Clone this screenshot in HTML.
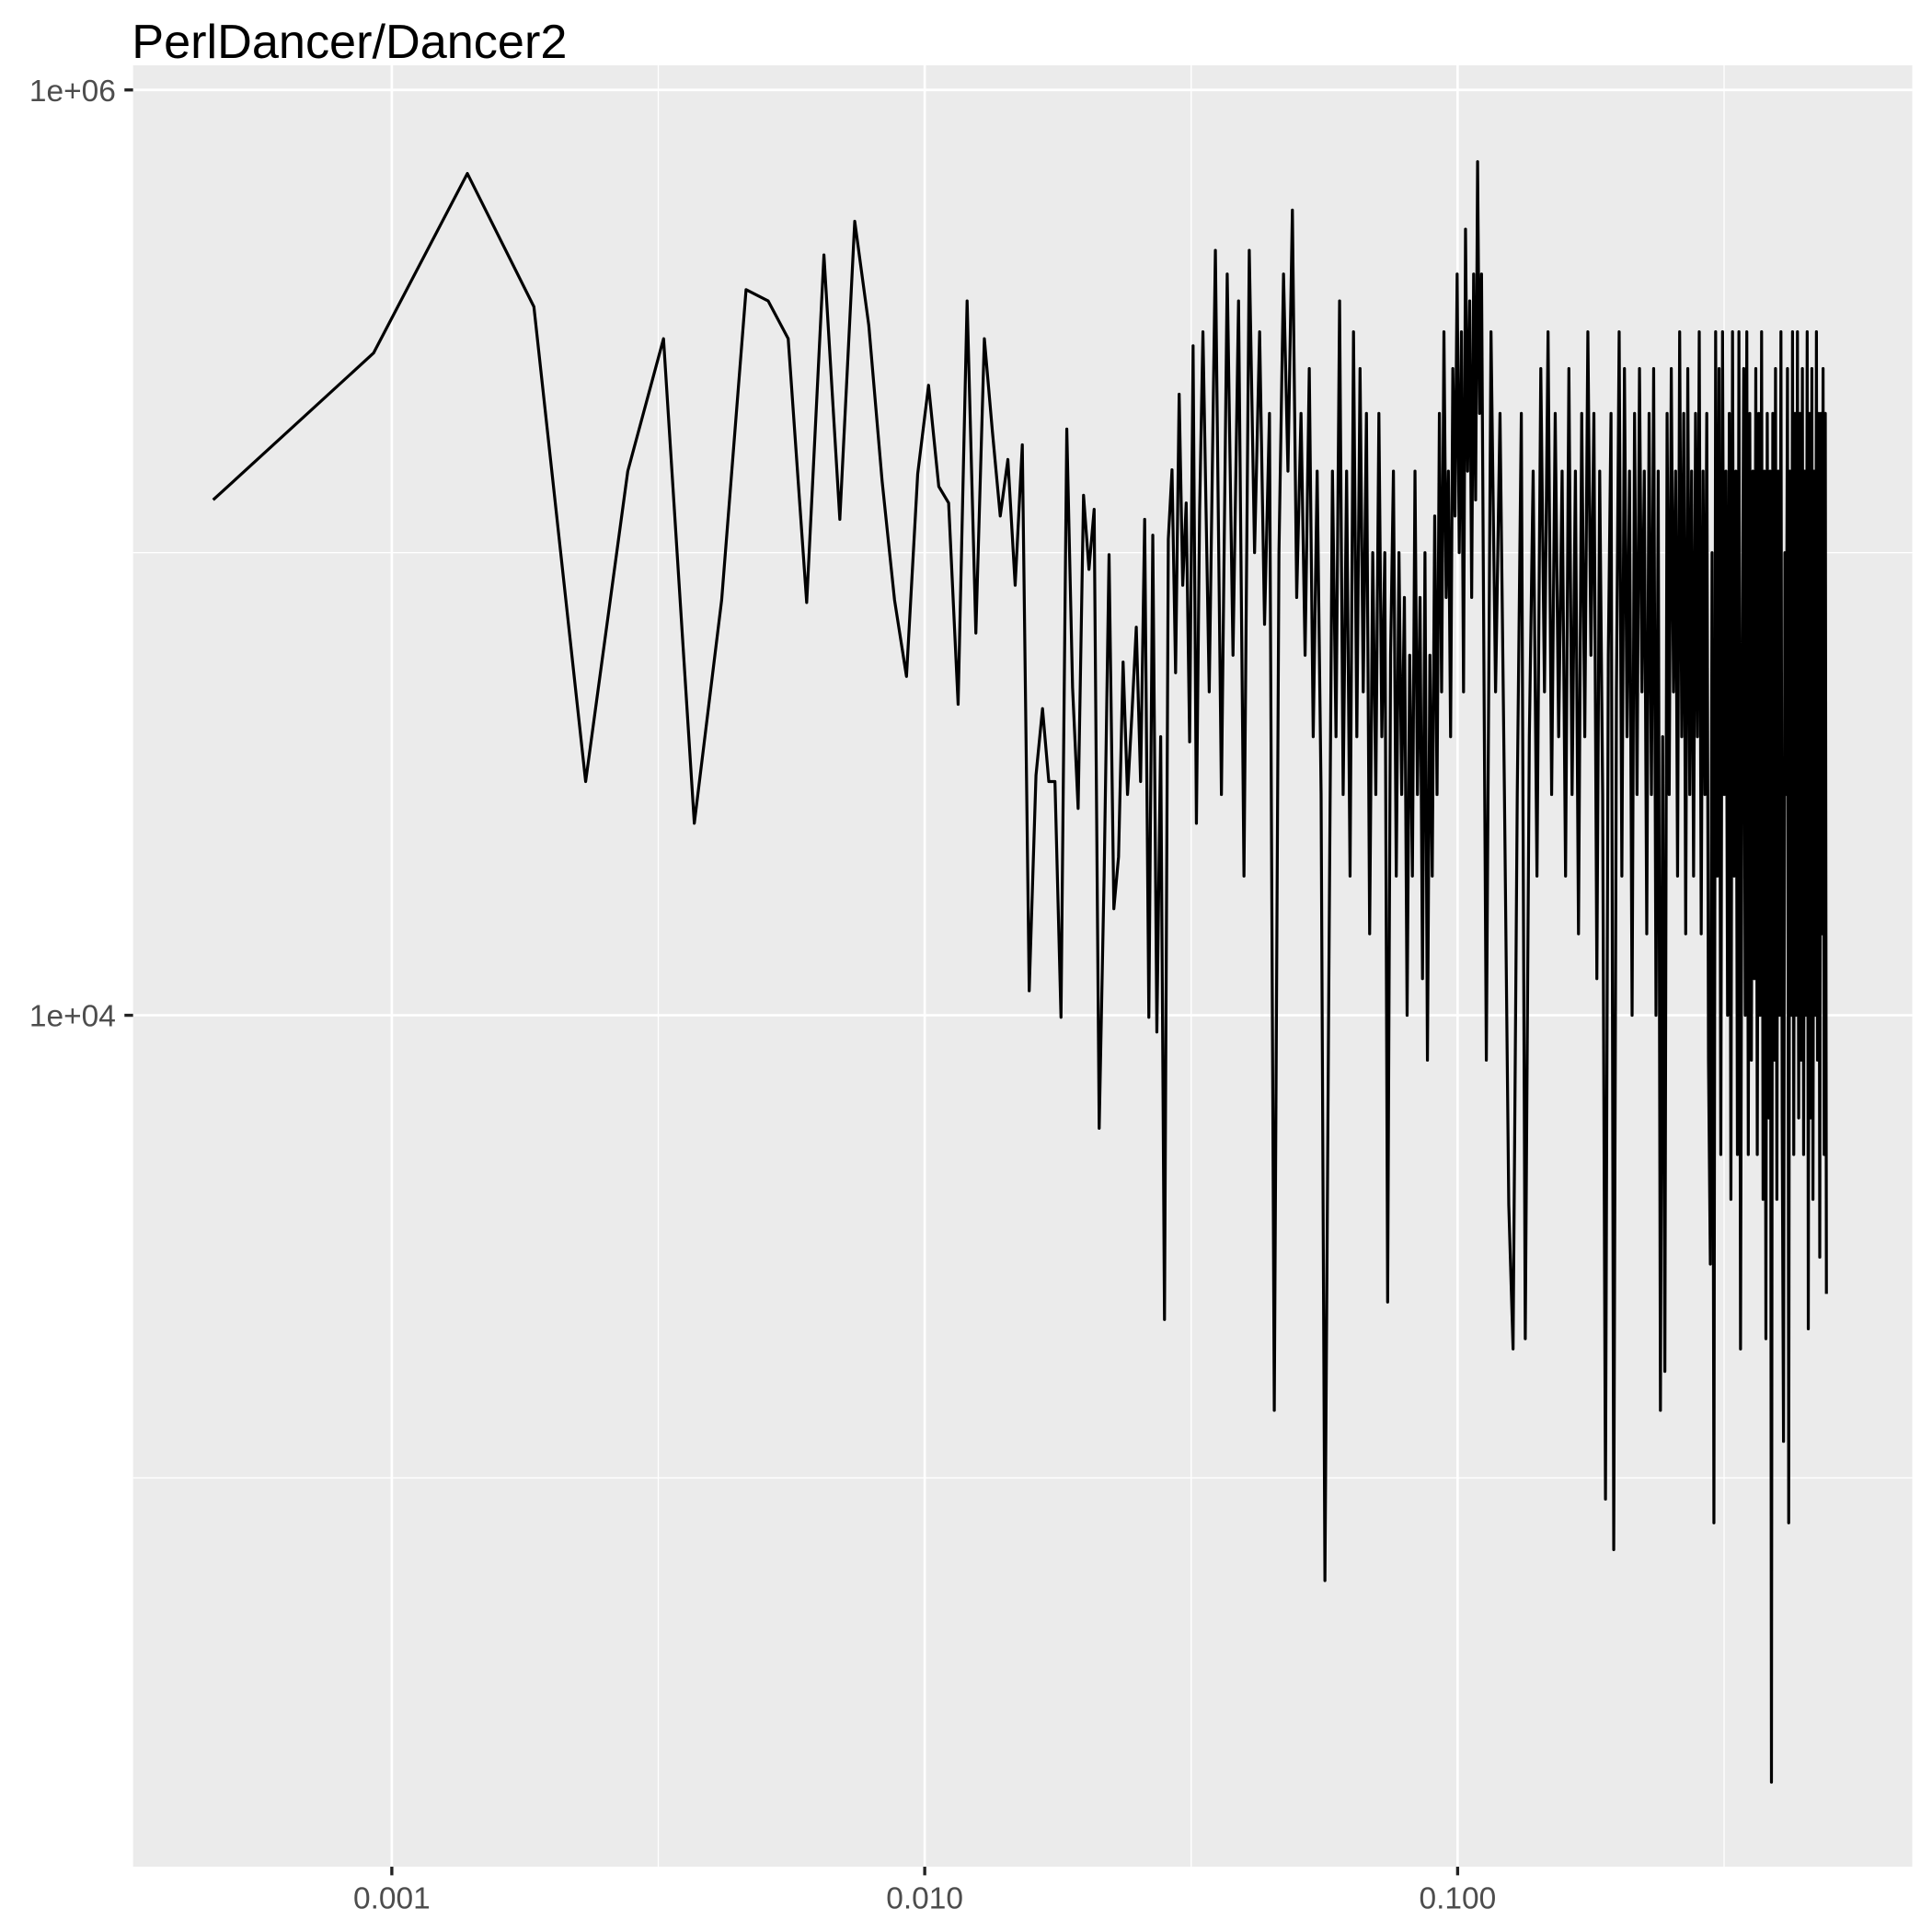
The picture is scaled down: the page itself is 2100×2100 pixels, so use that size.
<!DOCTYPE html>
<html><head><meta charset="utf-8"><style>
html,body{margin:0;padding:0;background:#fff;}
svg{display:block;font-family:"Liberation Sans",Arial,sans-serif;}
</style></head><body>
<svg id="chart" width="2100" height="2100" viewBox="0 0 1568 1568" xmlns="http://www.w3.org/2000/svg">
<text x="107" y="47" font-size="39" fill="#000">PerlDancer/Dancer2</text>
<rect x="108" y="53" width="1444" height="1462" fill="#ebebeb"/>
<g id="grid"></g>
<g id="axes"></g>
<path id="series" fill="none" stroke="#000" stroke-width="2.4" stroke-linejoin="round"/>
</svg>
<script>
// frequency step between consecutive spectrum indices
const freqStep = 0.000462;
// head: consecutive indices 1..N
const headPower = [1.3e5,2.7e5,6.6e5,3.4e5,3.2e4,1.5e5,2.9e5,2.6e4,7.9e4,3.7e5,3.5e5,2.9e5,7.8e4,4.4e5,1.18e5,5.2e5,3.1e5,1.43e5,7.9e4,5.4e4,1.48e5,2.3e5,1.39e5,1.28e5,4.7e4,3.5e5,6.7e4,2.9e5,1.83e5,1.2e5,1.59e5,8.5e4,1.71e5,1.13e4,3.3e4,4.6e4,3.2e4,3.2e4,9.9e3,1.85e5,5.1e4,2.8e4,1.33e5,9.2e4,1.24e5,5.7e3,2.0e4,9.9e4,1.7e4,2.2e4,5.8e4,3.0e4,4.5e4,6.9e4,3.2e4,1.18e5,9.9e3,1.09e5,9.2e3,4.0e4,2.2e3,1.07e5,1.51e5,5.5e4,2.2e5,8.5e4,1.28e5,3.9e4,2.8e5,2.6e4,1.23e5];
// mid section: indices 72,74,...,240
const midStart = 72, midStride = 2;
const midPower = [3e5,5e4,4.5e5,3e4,4e5,6e4,3.5e5,2e4,4.5e5,1e5,3e5,7e4,2e5,1.4e3,1e5,4e5,1.5e5,5.5e5,8e4,2e5,6e4,2.5e5,4e4,1.5e5,3e4,6e2,1.1e4,1.5e5,4e4,3.5e5,3e4,1.5e5,2e4,3e5,4e4,2.5e5,5e4,2e5,1.5e4,1e5,3e4,2e5,4e4,1e5,2.4e3,6e4,1.5e5,2e4,1e5,3e4,8e4,1e4,6e4,2e4,1.5e5,3e4,8e4,1.2e4,1e5,8e3,6e4,2e4,1.2e5,3e4,2e5,5e4,3e5,8e4,1.5e5,4e4,2.5e5,1.2e5,4e5,1e5,3e5,5e4,5e5,1.5e5,3.5e5,8e4,4e5,1.3e5,7e5,2e5,4e5];
// tail: indices 245,250,...,1065
const tailStart = 245, tailStride = 5;
const tailPower = [8e3,3e5,5e4,2e5,3e4,3.9e3,1.9e3,3e4,2e5,2e3,
4e4,1.5e5,2e4,2.5e5,5e4,3e5,3e4,2e5,4e4,1.5e5,
2e4,2.5e5,3e4,1.5e5,1.5e4,2e5,4e4,3e5,6e4,2e5,
1.2e4,1.5e5,3e4,9e2,6e4,2e5,7e2,5e4,3e5,2e4,
2.5e5,4e4,1.5e5,1e4,2e5,3e4,2.5e5,5e4,1.5e5,1.5e4,
2e5,3e4,2.5e5,1e4,1.5e5,1.4e3,4e4,1.7e3,2e5,3e4,
2.5e5,5e4,1.5e5,2e4,3e5,4e4,2e5,1.5e4,2.5e5,3e4,
1.5e5,2e4,2e5,4e4,3e5,1.5e4,1.5e5,3e4,2e5,8e3,
2.9e3,1e5,8e2,3e5,2e4,2.5e5,5e3,3e5,3e4,1.5e5,
1e4,2e5,4e3,3e5,2e4,1.5e5,5e3,3e5,1.9e3,5e4,
2.5e5,1e4,3e5,5e3,2e5,8e3,1.5e5,1.2e4,2.5e5,5e3,
2e5,1e4,3e5,4e3,1.5e5,2e3,2e5,6e3,1.5e5,2.2e2,
2e5,8e3,2.5e5,4e3,1.5e5,1e4,3e5,6e3,1.2e3,1e5,
3e4,2.5e5,8e2,1.5e5,1e4,3e5,5e3,2e5,1e4,3e5,
6e3,2e5,8e3,2.5e5,5e3,1.5e5,1e4,3e5,2.1e3,2e5,
6e3,2.5e5,4e3,1.5e5,1e4,3e5,8e3,2e5,3e3,2e5,
1.5e4,2.5e5,5e3,2e5,2.5e3];
const yTickValues = [1e6,1e4];
const yTickLabels = ["1e+06","1e+04"];
const yMinorValues = [1e5,1e3];
const xTickValues = [0.001,0.01,0.1];
const xTickLabels = ["0.001","0.010","0.100"];
const xMinorValues = [Math.pow(10,-2.5),Math.pow(10,-1.5),Math.pow(10,-0.5)];

const P = {l:108,r:1552,t:53,b:1515};
function xs(f){return 318 + 432.5*Math.log10(f/0.001);}
function ys(v){return 73 + (6-Math.log10(v))*375.5;}
const NS="http://www.w3.org/2000/svg";
const grid=document.getElementById('grid'), axes=document.getElementById('axes');
function line(parent,x1,y1,x2,y2,w,c){const l=document.createElementNS(NS,'line');
l.setAttribute('x1',x1);l.setAttribute('y1',y1);l.setAttribute('x2',x2);l.setAttribute('y2',y2);
l.setAttribute('stroke',c);l.setAttribute('stroke-width',w);parent.appendChild(l);return l;}
function text(parent,x,y,s,anchor){const t=document.createElementNS(NS,'text');
t.setAttribute('x',x);t.setAttribute('y',y);t.setAttribute('font-size','25');t.setAttribute('fill','#4d4d4d');
t.setAttribute('text-anchor',anchor);t.textContent=s;parent.appendChild(t);return t;}
yMinorValues.forEach(v=>{const l=line(grid,P.l,ys(v),P.r,ys(v),1,'#fff');

});
xMinorValues.forEach(v=>{const l=line(grid,xs(v),P.t,xs(v),P.b,1,'#fff');

});
yTickValues.forEach((v,i)=>{const y=ys(v);
const g=line(grid,P.l,y,P.r,y,2,'#fff');


const tk=line(axes,101,y,P.l,y,2.5,'#222');


const t=text(axes,94,y+9,yTickLabels[i],'end');

});
xTickValues.forEach((v,i)=>{const x=xs(v);
const g=line(grid,x,P.t,x,P.b,2,'#fff');


const tk=line(axes,x,P.b,x,P.b+7,2.5,'#222');


const t=text(axes,x,P.b+34,xTickLabels[i],'middle');

});
const pts=[];
headPower.forEach((v,i)=>pts.push([xs((i+1)*freqStep),ys(v)]));
midPower.forEach((v,i)=>pts.push([xs((midStart+i*midStride)*freqStep),ys(v)]));
tailPower.forEach((v,i)=>pts.push([xs((tailStart+i*tailStride)*freqStep),ys(v)]));
document.getElementById('series').setAttribute('d','M'+pts.map(p=>p[0].toFixed(1)+','+p[1].toFixed(1)).join('L'));
</script>
</body></html>
